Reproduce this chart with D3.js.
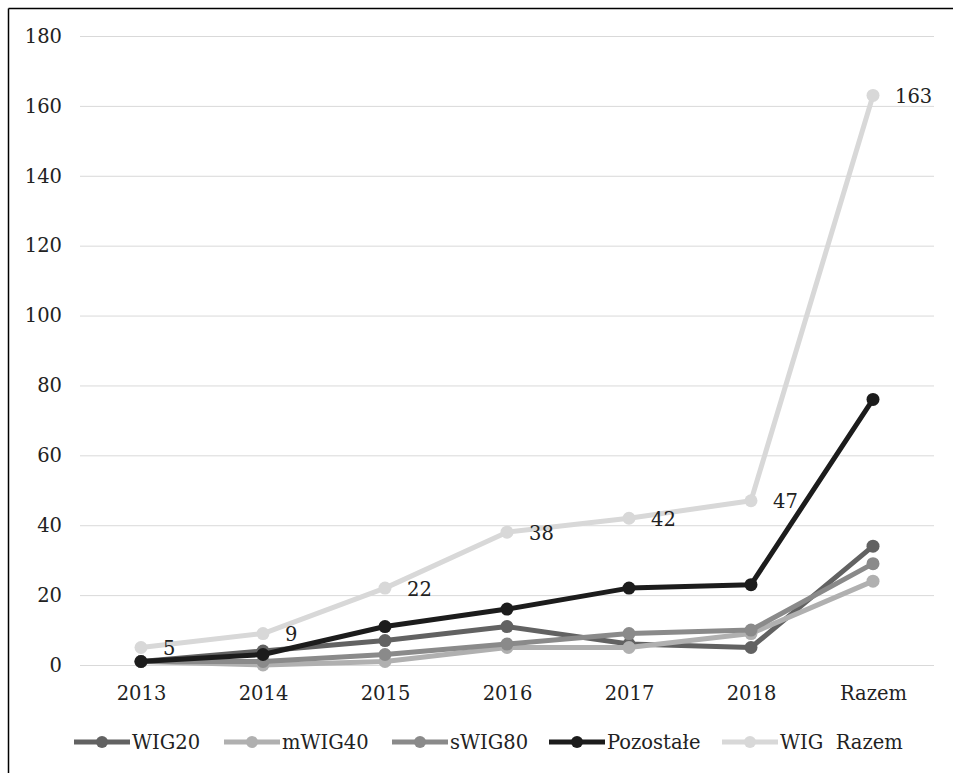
<!DOCTYPE html>
<html><head><meta charset="utf-8">
<script src="https://cdn.jsdelivr.net/npm/d3@7"></script>
<style>
html,body{margin:0;padding:0;background:#fff;}
svg text{font-family:"DejaVu Serif",serif;white-space:pre;}
</style></head>
<body><svg id="c" width="953" height="773"></svg>
<script>
const categories = ["2013","2014","2015","2016","2017","2018","Razem"];
const seriesNames = ["WIG20","mWIG40","sWIG80","Pozostałe","WIG  Razem"];
const wig20 = [1,4,7,11,6,5,34];
const mwig40 = [1,0,1,5,5,9,24];
const swig80 = [1,1,3,6,9,10,29];
const pozostale = [1,3,11,16,22,23,76];
const wigRazem = [5,9,22,38,42,47,163];
const yTicks = [0,20,40,60,80,100,120,140,160,180];
const colors = ["#626262","#b0b0b0","#8a8a8a","#1c1c1c","#d8d8d8"];
const seriesValues = [wig20, mwig40, swig80, pozostale, wigRazem];

(function(){
const svg = d3.select("#c");
const pLeft = 80, pRight = 934, pTop = 36, pBottom = 665;
const fs = 19.5;

svg.append("line").attr("x1",8.5).attr("x2",953).attr("y1",8.5).attr("y2",8.5).attr("stroke","#000").attr("stroke-width",1.5);
svg.append("line").attr("x1",8.5).attr("x2",8.5).attr("y1",8.5).attr("y2",773).attr("stroke","#000").attr("stroke-width",1.5);

const x = d3.scalePoint().domain(categories).range([pLeft,pRight]).padding(0.5);
const y = d3.scaleLinear().domain([0,180]).range([pBottom,pTop]);

svg.append("g").selectAll("line").data(yTicks).join("line")
  .attr("x1",pLeft).attr("x2",pRight)
  .attr("y1",d=>y(d)+0.5).attr("y2",d=>y(d)+0.5)
  .attr("stroke","#d9d9d9").attr("stroke-width",1);

const yAxis = d3.axisLeft(y).tickValues(yTicks).tickSize(0).tickPadding(0);
const gy = svg.append("g").attr("transform",`translate(62,0)`).call(yAxis);
gy.select(".domain").remove();
gy.selectAll("text").attr("font-size",fs).attr("fill","#222").attr("font-family","DejaVu Serif");

const xAxis = d3.axisBottom(x).tickSize(0).tickPadding(0);
const gx = svg.append("g").attr("transform",`translate(0,${pBottom+21})`).call(xAxis);
gx.select(".domain").remove();
gx.selectAll("text").attr("font-size",fs).attr("fill","#222").attr("font-family","DejaVu Serif");

const line = d3.line().x((d,i)=>x(categories[i])).y(d=>y(d));
seriesValues.forEach((vals,si)=>{
  const g = svg.append("g");
  g.append("path").datum(vals).attr("d",line).attr("fill","none")
    .attr("stroke",colors[si]).attr("stroke-width",5).attr("stroke-linejoin","round");
  g.selectAll("circle").data(vals).join("circle")
    .attr("cx",(d,i)=>x(categories[i])).attr("cy",d=>y(d)).attr("r",6.5)
    .attr("fill",colors[si]);
});

svg.append("g").selectAll("text").data(wigRazem).join("text")
  .attr("x",(d,i)=>x(categories[i])+22).attr("y",d=>y(d)+2)
  .attr("dominant-baseline","middle")
  .attr("font-size",fs).attr("fill","#222").text(d=>d);

const legX = [74, 224, 392, 549, 722];
const legY = 742;
const lg = svg.append("g");
seriesNames.forEach((n,i)=>{
  lg.append("line").attr("x1",legX[i]).attr("x2",legX[i]+56).attr("y1",legY).attr("y2",legY)
    .attr("stroke",colors[i]).attr("stroke-width",5);
  lg.append("circle").attr("cx",legX[i]+28).attr("cy",legY).attr("r",6).attr("fill",colors[i]);
  lg.append("text").attr("x",legX[i]+58).attr("y",legY+1).attr("dominant-baseline","middle")
    .attr("font-size",fs).attr("fill","#222").text(n);
});
})();
</script></body></html>
